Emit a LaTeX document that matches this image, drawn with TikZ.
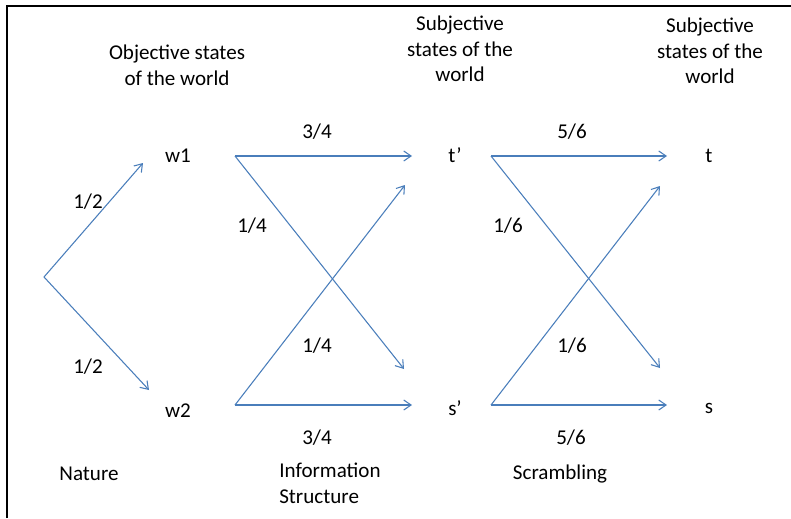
\documentclass[tikz,border=0pt]{standalone}
\usepackage{fontspec}
\setmainfont{Carlito}
\usetikzlibrary{arrows.meta}
\definecolor{arrowblue}{RGB}{74,126,187}
\tikzset{
  lbl/.style={inner sep=0pt, font=\fontsize{15.8}{19.2}\selectfont},
  conn/.style={draw=arrowblue, line width=0.8pt, -{Straight Barb[length=5.5pt,width=7.5pt,line width=0.8pt]}},
}
\begin{document}
\begin{tikzpicture}[x=0.75pt,y=-0.75pt]
\useasboundingbox (0,0) rectangle (791,518);
\coordinate (tl) at (7,6);
\coordinate (bl) at (7,518);
\coordinate (tr) at (791,6);
\draw[line width=1.6pt] (bl) -- (tl) -- (tr);

% headers
\node[lbl, align=center] (hobj) at (177,65) {Objective states\\of the world};
\node[lbl, align=center] (hsub1) at (460,49) {Subjective\\states of the\\world};
\node[lbl, align=center] (hsub2) at (710,51) {Subjective\\states of the\\world};

% states
\coordinate (root) at (44,277);
\node[lbl] (w1) at (178,156) {w1};
\node[lbl] (w2) at (178,411) {w2};
\node[lbl] (tp) at (455,155) {t’};
\node[lbl] (sp) at (455,408) {s’};
\node[lbl] (t) at (709,156) {t};
\node[lbl] (s) at (709,408) {s};

% connectors
\draw[conn] (root) -- ([shift={(-35,7)}]w1.center);
\draw[conn] (root) -- ([shift={(-29,-21)}]w2.center);

\draw[conn] ([shift={(57,0)}]w1.center) -- ([shift={(-43,1)}]tp.center);
\draw[conn] ([shift={(57,0)}]w1.center) -- ([shift={(-51,-39)}]sp.center);
\draw[conn] ([shift={(57,-6)}]w2.center) -- ([shift={(-43,-3)}]sp.center);
\draw[conn] ([shift={(57,-6)}]w2.center) -- ([shift={(-50,30)}]tp.center);

\draw[conn] ([shift={(36,1)}]tp.center) -- ([shift={(-42,0)}]t.center);
\draw[conn] ([shift={(36,1)}]tp.center) -- ([shift={(-49,-40)}]s.center);
\draw[conn] ([shift={(36,-3)}]sp.center) -- ([shift={(-42,-3)}]s.center);
\draw[conn] ([shift={(36,-3)}]sp.center) -- ([shift={(-49,30)}]t.center);

% probabilities
\node[lbl] (p1) at (88,202) {1/2};
\node[lbl] (p2) at (88,367) {1/2};
\node[lbl] (p3) at (317,132) {3/4};
\node[lbl] (p4) at (252,226) {1/4};
\node[lbl] (p5) at (317,346) {1/4};
\node[lbl] (p6) at (317,438) {3/4};
\node[lbl] (p7) at (572,132) {5/6};
\node[lbl] (p8) at (508,226) {1/6};
\node[lbl] (p9) at (572,346) {1/6};
\node[lbl] (p10) at (571,438) {5/6};

% bottom labels
\node[lbl] (nature) at (89,474) {Nature};
\node[lbl, align=left, anchor=north west] (info) at (279,463) {Information\\Structure};
\node[lbl] (scr) at (560,474) {Scrambling};
\end{tikzpicture}
\end{document}
